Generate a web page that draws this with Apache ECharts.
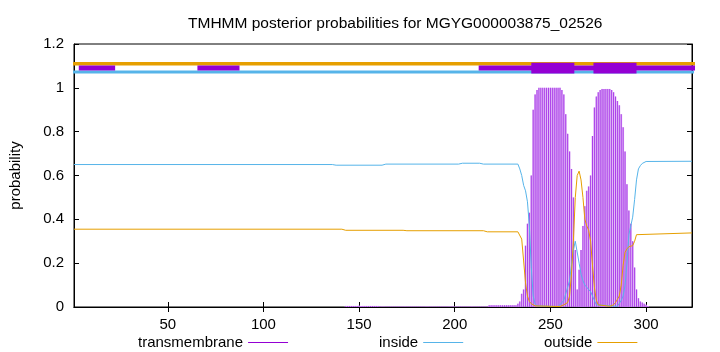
<!DOCTYPE html>
<html>
<head>
<meta charset="utf-8">
<script src="https://cdn.jsdelivr.net/npm/echarts@6/dist/echarts.min.js"></script>
<style>
html,body{margin:0;padding:0;background:#fff;}
#chart{width:720px;height:352px;}
</style>
</head>
<body>
<div id="chart"></div>
<script>
// ---- data ----
const titleText = 'TMHMM posterior probabilities for MGYG000003875_02526';
const seqLength = 324;
const xTickValues = [50, 100, 150, 200, 250, 300];

// transmembrane posterior probability per residue [residue, p] (impulses)
const transmembrane = [
  [143,0.005],[144,0.005],[145,0.005],[146,0.005],[147,0.005],[148,0.005],[149,0.005],[150,0.006],
  [151,0.005],[152,0.005],[153,0.005],[154,0.005],[155,0.005],[156,0.005],[157,0.005],[158,0.005],
  [159,0.005],[160,0.005],
  [161,0.002],[162,0.002],[163,0.002],[164,0.002],[165,0.002],[166,0.002],[167,0.002],[168,0.002],
  [169,0.002],[170,0.002],[171,0.002],[172,0.002],[173,0.002],[174,0.002],[175,0.002],[176,0.002],
  [177,0.002],[178,0.002],[179,0.002],[180,0.002],[181,0.002],[182,0.002],[183,0.002],[184,0.002],
  [185,0.002],[186,0.002],[187,0.002],[188,0.002],[189,0.002],[190,0.002],[191,0.002],[192,0.002],
  [193,0.002],[194,0.002],[195,0.002],[196,0.002],[197,0.002],[198,0.002],[199,0.002],[200,0.002],
  [201,0.002],[202,0.002],[203,0.002],[204,0.002],[205,0.002],[206,0.002],[207,0.002],[208,0.002],
  [209,0.002],[210,0.002],[211,0.002],[212,0.002],[213,0.002],[214,0.002],[215,0.002],[216,0.002],
  [217,0.002],
  [218,0.008],[219,0.008],[220,0.008],[221,0.008],[222,0.008],[223,0.008],[224,0.008],[225,0.008],
  [226,0.008],[227,0.008],[228,0.008],[229,0.008],[230,0.008],[231,0.008],[232,0.008],
  [233,0.015],[234,0.025],[235,0.06],[236,0.08],[237,0.28],[238,0.38],[239,0.43],[240,0.6],
  [241,0.9],[242,0.97],[243,0.99],[244,1.0],[245,1.0],[246,1.0],[247,1.0],[248,1.0],[249,1.0],
  [250,1.0],[251,1.0],[252,1.0],[253,1.0],[254,1.0],[255,1.0],[256,0.99],[257,0.97],[258,0.88],
  [259,0.79],[260,0.71],[261,0.63],[262,0.5],[263,0.26],[264,0.08],[265,0.17],[266,0.26],
  [267,0.37],[268,0.46],[269,0.53],[270,0.55],[271,0.6],[272,0.78],[273,0.91],[274,0.96],
  [275,0.98],[276,0.99],[277,0.995],[278,0.995],[279,0.995],[280,0.995],[281,0.995],[282,0.99],
  [283,0.98],[284,0.96],[285,0.94],[286,0.92],[287,0.88],[288,0.82],[289,0.71],[290,0.56],
  [291,0.44],[292,0.38],[293,0.3],[294,0.18],[295,0.08],[296,0.04],[297,0.025],[298,0.02],
  [299,0.015],[300,0.01],[301,0.005]
];

// inside probability [residue, p]
const inside = [
  [1,0.65],[136,0.65],[138,0.647],[162,0.647],[164,0.652],[202,0.652],[204,0.656],[213,0.656],
  [215,0.652],[233,0.652],[234,0.63],[235,0.6],[236,0.555],[237,0.53],[238,0.48],[239,0.37],
  [240,0.18],[241,0.05],[242,0.015],[243,0.005],[244,0.002],[254,0.002],[255,0.01],[256,0.02],
  [257,0.03],[258,0.06],[259,0.09],[260,0.12],[261,0.19],[262,0.26],[263,0.3],[264,0.3],
  [265,0.2],[266,0.15],[267,0.12],[268,0.1],[269,0.09],[270,0.08],[271,0.07],[272,0.05],
  [273,0.03],[274,0.01],[275,0.003],[285,0.003],[286,0.01],[287,0.03],[288,0.05],[289,0.1],
  [290,0.2],[291,0.33],[292,0.37],[293,0.41],[294,0.49],[295,0.58],[296,0.63],[297,0.645],
  [298,0.655],[299,0.662],[300,0.664],[324,0.665]
];

// outside probability [residue, p]
const outside = [
  [1,0.355],[141,0.355],[143,0.35],[173,0.35],[175,0.348],[215,0.348],[217,0.343],[233,0.343],
  [234,0.335],[235,0.31],[236,0.21],[237,0.11],[238,0.05],[239,0.025],[240,0.015],[241,0.01],
  [242,0.005],[243,0.002],[255,0.002],[256,0.005],[257,0.01],[258,0.015],[259,0.02],[260,0.05],
  [261,0.15],[262,0.3],[263,0.5],[264,0.6],[265,0.62],[266,0.58],[267,0.5],[268,0.4],
  [269,0.37],[270,0.35],[271,0.3],[272,0.19],[273,0.09],[274,0.03],[275,0.01],[276,0.003],
  [281,0.003],[282,0.006],[283,0.01],[284,0.02],[285,0.035],[286,0.05],[287,0.1],[288,0.19],
  [289,0.25],[290,0.265],[291,0.275],[292,0.278],[293,0.28],[294,0.3],[295,0.33],[296,0.338],
  [324,0.338]
];

// predicted topology strip above the plot: [start, end] in residues
const outsideStrip = [[0.5, 339]];
const insideStrip = [[0.5, 339]];
const tmThinBoxes = [[3.5, 22.5], [65.5, 87.5], [212.5, 333.5]];
const tmThickBoxes = [[240, 262.5], [272.5, 295]];
const stripLevels = { outside: 1.11, inside: 1.072, tm: 1.09 };

// ---- chart ----
const FONT = 'Liberation Sans, Arial, sans-serif';
const C_TM = '#9400d3', C_IN = '#56b4e9', C_OUT = '#e69f00';

function stripSeries(segs, level, color, width) {
  return segs.map(s => ({
    type: 'line', silent: true, clip: false, symbol: 'none', animation: false,
    xAxisIndex: 0, yAxisIndex: 0, z: 5,
    lineStyle: { color: color, width: width, cap: 'butt' },
    data: [[s[0], level], [s[1], level]]
  }));
}

function legendFor(name, color, left) {
  return {
    data: [{ name: name, itemStyle: { color: color } }],
    left: left, top: 330, align: 'right', icon: 'rect', itemWidth: 40, itemHeight: 1,
    textStyle: { fontFamily: FONT, fontSize: 15, color: '#000' }, selectedMode: false
  };
}

const chart = echarts.init(document.getElementById('chart'), null, { renderer: 'canvas' });
const axisCommon = {
  axisLine: { show: true, lineStyle: { color: '#000', width: 1 } },
  splitLine: { show: false }
};
const option = {
  animation: false,
  backgroundColor: '#fff',
  textStyle: { fontFamily: FONT },
  title: {
    text: titleText, left: 183, top: 11,
    textStyle: { fontFamily: FONT, fontSize: 15.5, fontWeight: 'normal', color: '#000' }
  },
  grid: { left: 73, right: 28, top: 44, bottom: 45, show: true, borderColor: '#000', borderWidth: 1, containLabel: false },
  legend: [
    legendFor('transmembrane', C_TM, 133),
    legendFor('inside', C_IN, 374),
    legendFor('outside', C_OUT, 539)
  ],
  xAxis: [
    Object.assign({}, axisCommon, {
      type: 'value', min: 1, max: seqLength, position: 'bottom',
      axisTick: { show: true, inside: true, length: 5, lineStyle: { color: '#000' }, customValues: xTickValues },
      axisLabel: { show: true, color: '#000', fontSize: 15, fontFamily: FONT, margin: 10, customValues: xTickValues }
    }),
    Object.assign({}, axisCommon, {
      type: 'value', min: 1, max: seqLength, position: 'top',
      axisTick: { show: true, inside: true, length: 5, lineStyle: { color: '#000' }, customValues: xTickValues },
      axisLabel: { show: false }
    })
  ],
  yAxis: [
    Object.assign({}, axisCommon, {
      type: 'value', min: 0, max: 1.2, interval: 0.2, position: 'left',
      name: 'probability', nameLocation: 'middle', nameGap: 51, nameRotate: 90,
      nameTextStyle: { fontFamily: FONT, fontSize: 15, color: '#000' },
      axisTick: { show: true, inside: true, length: 5, lineStyle: { color: '#000' } },
      axisLabel: { show: true, color: '#000', fontSize: 15, fontFamily: FONT, margin: 10 }
    }),
    Object.assign({}, axisCommon, {
      type: 'value', min: 0, max: 1.2, interval: 0.2, position: 'right',
      axisTick: { show: true, inside: true, length: 5, lineStyle: { color: '#000' } },
      axisLabel: { show: false }
    })
  ],
  series: [
    {
      name: 'transmembrane', type: 'custom', xAxisIndex: 0, yAxisIndex: 0, z: 2,
      itemStyle: { color: C_TM },
      data: transmembrane,
      renderItem: function (params, api) {
        const base = api.coord([api.value(0), 0]);
        const top = api.coord([api.value(0), api.value(1)]);
        const h = base[1] - top[1];
        return {
          type: 'group',
          children: [
            { type: 'rect', shape: { x: base[0] - 0.95, y: top[1], width: 1.9, height: h },
              style: { fill: '#dcaff4' } },
            { type: 'rect', shape: { x: base[0] - 0.5, y: top[1], width: 1.0, height: h },
              style: { fill: '#ab3fea' } }
          ]
        };
      }
    },
    {
      name: 'inside', type: 'line', xAxisIndex: 0, yAxisIndex: 0, symbol: 'none', z: 3,
      lineStyle: { color: C_IN, width: 1 }, itemStyle: { color: C_IN }, data: inside
    },
    {
      name: 'outside', type: 'line', xAxisIndex: 0, yAxisIndex: 0, symbol: 'none', z: 3,
      lineStyle: { color: C_OUT, width: 1 }, itemStyle: { color: C_OUT }, data: outside
    }
  ]
    .concat(stripSeries(outsideStrip, stripLevels.outside, C_OUT, 3.7))
    .concat(stripSeries(insideStrip, stripLevels.inside, C_IN, 3))
    .concat(stripSeries(tmThinBoxes, stripLevels.tm, C_TM, 5))
    .concat(stripSeries(tmThickBoxes, stripLevels.tm, C_TM, 10.6))
};
chart.setOption(option);
</script>
</body>
</html>
